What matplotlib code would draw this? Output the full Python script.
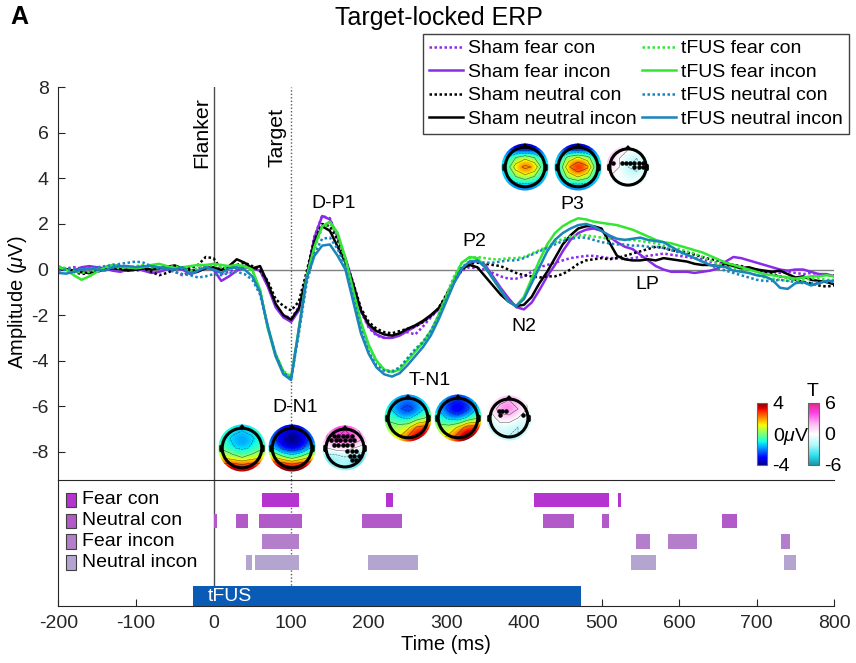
import numpy as np
import matplotlib
matplotlib.use('Agg')
import matplotlib.pyplot as plt
from matplotlib.colors import LinearSegmentedColormap, Normalize
from matplotlib.cm import ScalarMappable
from matplotlib.patches import Circle, Polygon, Rectangle

plt.rcParams['font.family'] = ['Liberation Sans', 'DejaVu Sans']
plt.rcParams['mathtext.fontset'] = 'custom'
plt.rcParams['mathtext.rm'] = 'Liberation Sans'
plt.rcParams['mathtext.it'] = 'Liberation Sans:italic'
plt.rcParams['axes.unicode_minus'] = False

# time axis (ms), one sample every 10 ms
t = np.arange(-200, 801, 10)

# grand-average ERPs (uV)
sham_fear_con = [
    0.00, 0.05, 0.10, 0.05, -0.05, -0.10, 0.00, 0.10, 0.05, 0.00,
    -0.05, 0.00, 0.05, 0.10, 0.05, -0.10, -0.25, -0.10, 0.05, 0.15,
    0.05, -0.20, -0.10, 0.05, 0.15, 0.10, -0.05, -0.70, -1.55, -2.00,
    -2.15, -1.65, -0.20, 1.45, 2.35, 2.25, 1.40, 0.45, -0.65, -1.85,
    -2.55, -2.90, -3.00, -3.00, -2.80, -2.75, -2.85, -2.50, -2.10, -1.75,
    -1.25, -0.55, -0.05, 0.10, 0.05, 0.00, -0.15, -0.30, -0.40, -0.40,
    -0.30, -0.10, 0.10, 0.20, 0.30, 0.40, 0.50, 0.55, 0.60, 0.60,
    0.55, 0.50, 0.50, 0.45, 0.50, 0.55, 0.60, 0.65, 0.70, 0.65,
    0.60, 0.55, 0.50, 0.45, 0.35, 0.30, 0.25, 0.20, 0.10, 0.05,
    0.00, -0.10, -0.10, -0.15, -0.10, -0.15, -0.20, -0.15, -0.20, -0.25,
    -0.25]
sham_fear_incon = [
    0.05, 0.00, -0.05, 0.10, 0.15, 0.10, 0.05, -0.05, -0.10, 0.00,
    0.05, -0.05, -0.15, -0.10, 0.00, 0.05, 0.00, -0.20, -0.10, 0.10,
    0.00, -0.50, -0.30, -0.05, 0.10, 0.05, -0.05, -0.75, -1.65, -2.10,
    -2.30, -1.80, -0.30, 1.40, 2.35, 2.20, 1.40, 0.50, -0.60, -1.80,
    -2.50, -2.85, -3.00, -3.00, -2.90, -2.70, -2.50, -2.30, -2.05, -1.75,
    -1.25, -0.55, 0.00, 0.25, 0.40, 0.20, -0.30, -0.80, -1.25, -1.65,
    -1.75, -1.45, -0.90, -0.30, 0.20, 0.80, 1.30, 1.60, 1.75, 1.80,
    1.70, 1.45, 1.20, 1.00, 0.90, 0.65, 0.40, 0.15, 0.00, -0.10,
    -0.10, -0.10, -0.15, -0.10, -0.05, 0.05, 0.35, 0.55, 0.50, 0.40,
    0.30, 0.20, 0.10, 0.00, -0.05, 0.00, 0.00, -0.10, -0.20, -0.20,
    -0.30]
sham_neutral_con = [
    0.05, 0.00, -0.10, -0.20, -0.15, -0.05, 0.10, 0.20, 0.15, 0.05,
    0.00, 0.05, -0.10, -0.25, -0.15, 0.00, 0.10, 0.05, 0.20, 0.55,
    0.50, 0.00, 0.10, 0.20, 0.30, 0.15, -0.05, -0.50, -1.30, -1.60,
    -1.80, -1.40, -0.10, 1.30, 2.00, 1.90, 1.30, 0.40, -0.60, -1.70,
    -2.30, -2.60, -2.75, -2.80, -2.70, -2.60, -2.50, -2.30, -2.05, -1.70,
    -1.10, -0.50, 0.00, 0.25, 0.30, 0.25, 0.20, 0.15, 0.00, -0.15,
    -0.25, -0.30, -0.35, -0.30, -0.30, -0.20, 0.00, 0.25, 0.40, 0.45,
    0.50, 0.45, 0.50, 0.60, 0.70, 0.80, 0.90, 1.00, 0.95, 0.85,
    0.80, 0.75, 0.65, 0.55, 0.45, 0.40, 0.30, 0.20, 0.15, 0.05,
    0.00, -0.10, -0.20, -0.30, -0.35, -0.45, -0.55, -0.60, -0.70, -0.75,
    -0.70]
sham_neutral_incon = [
    0.10, 0.02, -0.05, -0.12, -0.15, -0.08, 0.00, 0.05, 0.02, -0.05,
    0.00, 0.05, 0.00, 0.05, 0.12, 0.18, 0.05, -0.02, -0.08, 0.05,
    0.10, -0.02, 0.15, 0.45, 0.30, 0.05, 0.15, -0.60, -1.50, -2.00,
    -2.20, -1.70, -0.30, 1.20, 1.90, 1.70, 1.00, 0.30, -0.70, -1.80,
    -2.40, -2.70, -2.85, -2.90, -2.80, -2.60, -2.45, -2.25, -2.00, -1.70,
    -1.20, -0.50, 0.05, 0.20, 0.10, -0.30, -0.70, -1.10, -1.40, -1.60,
    -1.55, -1.20, -0.60, -0.10, 0.50, 1.10, 1.50, 1.80, 1.90, 1.90,
    1.80, 1.20, 0.60, 0.45, 0.40, 0.40, 0.45, 0.40, 0.50, 0.45,
    0.40, 0.35, 0.25, 0.20, 0.20, 0.15, 0.20, 0.15, 0.05, 0.10,
    0.00, -0.05, -0.10, -0.05, -0.20, -0.35, -0.30, -0.45, -0.50, -0.55,
    -0.65]
tfus_fear_con = [
    0.15, 0.05, -0.05, -0.15, -0.10, 0.00, 0.05, 0.10, 0.05, 0.10,
    0.15, 0.20, 0.10, 0.05, 0.10, 0.15, 0.05, -0.05, 0.05, 0.15,
    0.20, 0.10, 0.05, 0.10, 0.10, -0.05, -0.90, -2.50, -3.70, -4.45,
    -4.70, -2.70, -0.40, 0.90, 1.85, 2.00, 1.50, 0.40, -1.00, -2.40,
    -3.40, -4.00, -4.40, -4.45, -4.30, -3.90, -3.50, -3.15, -2.70, -2.00,
    -1.10, -0.30, 0.30, 0.50, 0.55, 0.50, 0.45, 0.45, 0.50, 0.50,
    0.55, 0.70, 0.85, 1.00, 1.20, 1.35, 1.45, 1.50, 1.50, 1.45,
    1.40, 1.35, 1.35, 1.30, 1.30, 1.25, 1.20, 1.15, 1.05, 0.95,
    0.90, 0.80, 0.70, 0.55, 0.40, 0.25, 0.15, 0.05, -0.05, -0.15,
    -0.25, -0.35, -0.40, -0.45, -0.50, -0.45, -0.45, -0.40, -0.40, -0.45,
    -0.45]
tfus_fear_incon = [
    0.10, 0.00, -0.25, -0.45, -0.30, -0.10, 0.10, 0.20, 0.15, 0.10,
    0.05, 0.10, 0.20, 0.25, 0.15, 0.05, 0.10, 0.15, 0.20, 0.20,
    0.25, 0.20, 0.15, 0.20, 0.15, 0.00, -0.90, -2.60, -3.80, -4.50,
    -4.75, -2.60, -0.30, 1.00, 1.90, 2.10, 1.60, 0.50, -0.90, -2.30,
    -3.30, -4.00, -4.40, -4.50, -4.40, -4.00, -3.60, -3.20, -2.70, -2.00,
    -1.20, -0.40, 0.30, 0.55, 0.50, 0.10, -0.40, -0.90, -1.40, -1.60,
    -1.20, -0.40, 0.40, 1.10, 1.60, 1.90, 2.10, 2.25, 2.20, 2.10,
    2.05, 2.00, 1.95, 1.85, 1.75, 1.60, 1.45, 1.30, 1.20, 1.15,
    1.05, 0.95, 0.85, 0.75, 0.60, 0.45, 0.30, 0.20, 0.10, 0.00,
    -0.10, -0.20, -0.25, -0.30, -0.35, -0.40, -0.35, -0.30, -0.30, -0.25,
    -0.30]
tfus_neutral_con = [
    -0.05, 0.00, 0.05, 0.00, 0.05, 0.10, 0.15, 0.20, 0.25, 0.30,
    0.35, 0.30, 0.15, 0.05, 0.00, -0.10, -0.20, -0.25, -0.35, -0.30,
    -0.20, -0.25, -0.15, -0.10, -0.20, -0.45, -1.10, -2.50, -3.70, -4.50,
    -4.80, -2.80, -0.60, 0.70, 1.35, 1.40, 0.90, 0.10, -1.20, -2.60,
    -3.60, -4.20, -4.45, -4.50, -4.30, -3.90, -3.50, -3.20, -2.70, -2.10,
    -1.30, -0.50, 0.10, 0.35, 0.35, 0.30, 0.30, 0.35, 0.40, 0.40,
    0.50, 0.65, 0.80, 0.95, 1.10, 1.25, 1.35, 1.40, 1.40, 1.30,
    1.20, 1.15, 1.10, 1.10, 1.05, 1.05, 1.00, 1.00, 0.95, 0.85,
    0.75, 0.65, 0.50, 0.35, 0.20, 0.05, -0.05, -0.15, -0.25, -0.35,
    -0.45, -0.50, -0.50, -0.45, -0.50, -0.55, -0.60, -0.60, -0.55, -0.55,
    -0.55]
tfus_neutral_incon = [
    -0.15, -0.18, -0.10, 0.00, 0.05, 0.00, -0.05, 0.10, 0.15, 0.15,
    0.10, 0.15, 0.15, 0.10, 0.05, 0.00, 0.10, -0.20, -0.05, 0.10,
    0.00, -0.15, 0.05, 0.10, 0.00, -0.30, -1.00, -2.50, -3.80, -4.60,
    -4.85, -2.60, -0.40, 0.60, 1.05, 1.10, 0.60, 0.00, -1.40, -2.80,
    -3.70, -4.30, -4.60, -4.70, -4.55, -4.20, -3.80, -3.40, -2.90, -2.20,
    -1.40, -0.60, 0.05, 0.35, 0.40, 0.10, -0.40, -0.90, -1.40, -1.60,
    -1.30, -0.60, 0.10, 0.80, 1.30, 1.60, 1.80, 1.95, 2.00, 1.90,
    1.70, 1.50, 1.35, 1.30, 1.35, 1.40, 1.30, 1.25, 1.20, 1.00,
    0.80, 0.65, 0.50, 0.35, 0.20, 0.15, 0.10, -0.05, -0.10, -0.15,
    -0.25, -0.30, -0.45, -0.80, -0.85, -0.60, -0.55, -0.70, -0.60, -0.50,
    -0.50]

# significant clusters (start, end in ms) per contrast row
sig_rows = ['Fear con', 'Neutral con', 'Fear incon', 'Neutral incon']
fear_con_sig = [(62, 110), (222, 231), (413, 510), (521, 525)]
neutral_con_sig = [(0, 5), (29, 45), (58, 114), (191, 243), (425, 465), (501, 510), (655, 675)]
fear_incon_sig = [(62, 110), (545, 562), (586, 623), (731, 743)]
neutral_incon_sig = [(42, 49), (54, 110), (199, 263), (538, 570), (735, 751)]
tfus_on = (-26, 474)

# scalp maps, 5x5 grids (front row first)
dn1_sham = [[-0.6, -1.0, -1.2, -1.0, -0.6],
            [-0.9, -1.5, -2.0, -1.5, -0.9],
            [-0.3, -1.2, -1.6, -1.2, -0.3],
            [1.2, 0.6, 0.0, 0.6, 1.2],
            [3.5, 4.0, 3.5, 4.0, 3.5]]
dn1_tfus = [[-1.8, -2.8, -3.3, -2.8, -1.8],
            [-2.3, -3.8, -4.4, -3.8, -2.3],
            [-1.3, -3.1, -3.6, -3.1, -1.3],
            [1.5, 0.5, -0.5, 0.5, 1.5],
            [4.0, 4.5, 4.0, 4.5, 4.0]]
dn1_t = [[2.0, 4.0, 4.0, 3.0, 1.0],
         [2.0, 4.0, 5.0, 4.0, 2.0],
         [0.0, 1.0, 1.0, 0.0, -1.0],
         [-3.0, -3.0, -2.0, -3.0, -3.0],
         [-3.0, -2.0, -2.0, -3.0, -4.0]]
tn1_sham = [[-0.8, -1.5, -1.9, -1.5, -0.8],
            [-1.1, -2.5, -3.1, -2.3, -1.0],
            [-0.2, -1.1, -1.6, -0.7, 0.2],
            [0.3, 0.5, 1.0, 3.0, 3.2],
            [0.8, 1.2, 2.8, 4.0, 3.2]]
tn1_tfus = [[-1.1, -2.0, -2.5, -2.0, -1.1],
            [-1.6, -3.1, -3.9, -3.0, -1.4],
            [-0.5, -1.6, -2.1, -1.1, -0.1],
            [0.3, 0.5, 1.5, 3.4, 3.2],
            [0.8, 1.6, 3.3, 4.4, 3.5]]
tn1_t = [[0.0, 1.0, 2.0, 1.0, 0.0],
         [0.5, 3.0, 4.0, 2.0, 0.0],
         [-1.0, 1.0, 1.0, 0.0, -1.5],
         [-2.0, -1.0, -1.0, -2.0, -1.0],
         [-1.0, -1.0, -2.0, -2.0, -1.0]]
p3_sham = [[-2.5, -3.5, -4.0, -3.5, -2.5],
           [-1.5, 0.0, 1.0, 0.0, -1.5],
           [-1.2, 2.0, 3.0, 2.5, -1.2],
           [-1.5, 0.0, 1.0, 0.0, -1.5],
           [-2.0, -2.0, -2.0, -2.0, -2.0]]
p3_tfus = [[-2.5, -3.5, -4.0, -3.5, -2.5],
           [-1.5, 0.5, 1.5, 0.5, -1.5],
           [-1.2, 2.5, 4.0, 3.0, -1.2],
           [-1.5, 0.5, 1.5, 0.5, -1.5],
           [-2.0, -2.0, -2.0, -2.0, -2.0]]
p3_t = [[1.5, 1.0, 0.0, 0.0, 0.5],
        [2.0, 0.0, -1.0, -2.0, 0.0],
        [1.0, 0.0, -2.0, -3.0, -1.0],
        [0.0, 0.0, -1.0, -1.0, 0.0],
        [-1.0, 0.0, 0.0, 0.0, -1.0]]
# significant electrodes on the t-maps
dn1_dots_x = [-0.5, -0.3, -0.1, 0.1, 0.3, -0.6, -0.4, -0.2, 0.0, 0.2, 0.4,
              -0.5, -0.3, -0.1, 0.1, 0.3, 0.1, 0.3, 0.5, 0.2, 0.4, 0.6, 0.3, 0.5]
dn1_dots_y = [0.55] * 5 + [0.35] * 6 + [0.15] * 5 + [-0.15] * 3 + [-0.35] * 3 + [-0.55] * 2
tn1_dots_x = [-0.45, -0.3, -0.15, -0.38, 0.6]
tn1_dots_y = [0.3, 0.3, 0.3, 0.15, 0.15]
p3_dots_x = [-0.7, -0.3, -0.1, 0.1, 0.3, 0.5, 0.7, 0.3, 0.5, 0.7]
p3_dots_y = [0.2, 0.2, 0.2, 0.2, 0.2, 0.2, 0.2, 0.02, 0.02, 0.02]

W, H = 856, 663
fig = plt.figure(figsize=(W / 100, H / 100), dpi=100)

purple = '#8B2BEA'
green = '#33E633'
blue = '#1A84BC'
dark = (0.15, 0.15, 0.15)
dots = (0, (1, 1))

# ---- ERP panel ----
ax = fig.add_axes([58.3 / W, (H - 480) / H, 776 / W, (480 - 87.3) / H])
ax.set_xlim(-200, 800)
ax.set_ylim(-9.24, 8)
ax.axhline(0, color=(0.5, 0.5, 0.5), lw=1, zorder=1)
ax.axvline(0, color=(0.3, 0.3, 0.3), lw=1, zorder=1)
ax.axvline(100, color=(0.35, 0.35, 0.35), lw=1, ls=(0, (1, 1.5)), zorder=1)

series = [
    (sham_fear_con, purple, dots, 'Sham fear con'),
    (sham_fear_incon, purple, '-', 'Sham fear incon'),
    (sham_neutral_con, 'k', dots, 'Sham neutral con'),
    (sham_neutral_incon, 'k', '-', 'Sham neutral incon'),
    (tfus_fear_con, green, dots, 'tFUS fear con'),
    (tfus_fear_incon, green, '-', 'tFUS fear incon'),
    (tfus_neutral_con, blue, dots, 'tFUS neutral con'),
    (tfus_neutral_incon, blue, '-', 'tFUS neutral incon'),
]
handles = []
for vals, col, ls, lab in series:
    ln, = ax.plot(t, vals, color=col, ls=ls, lw=1.8, label=lab, zorder=2)
    handles.append(ln)

for s in ['top', 'right', 'bottom']:
    ax.spines[s].set_visible(False)
ax.spines['left'].set_color(dark)
ax.set_xticks([])
ax.set_yticks(np.arange(-8, 9, 2))
ax.tick_params(axis='y', direction='in', length=5, labelsize=14, colors=dark, pad=7)
ax.set_ylabel('Amplitude ($\\mu$V)', fontsize=14.5)
ax.yaxis.set_label_coords(-0.038, 0.453)

ax.text(-3, 4.45, 'Flanker', rotation=90, ha='right', va='bottom', fontsize=15.3)
ax.text(94, 4.5, 'Target', rotation=90, ha='right', va='bottom', fontsize=15.3)
for lab, x, y in [('D-P1', 155, 2.9), ('P2', 336, 1.24), ('P3', 463, 2.87),
                  ('N2', 400, -2.49), ('LP', 559, -0.65), ('T-N1', 279, -4.86),
                  ('D-N1', 105, -6.04)]:
    ax.text(x, y, lab, ha='center', va='center', fontsize=14)

fig.legend(handles=handles, ncol=2, loc='upper left',
           bbox_to_anchor=(423 / W, 1 - 34 / H), frameon=True, fancybox=False,
           edgecolor=(0.25, 0.25, 0.25), framealpha=1, fontsize=14,
           handlelength=1.75, handletextpad=0.25, columnspacing=0.3,
           labelspacing=0.3, borderpad=0.3, borderaxespad=0)

# ---- significance panel ----
ax2 = fig.add_axes([58.3 / W, (H - 605.7) / H, 776 / W, 125.7 / H])
ax2.set_xlim(-200, 800)
ax2.set_ylim(0, 6)
ax2.axvline(0, color=(0.3, 0.3, 0.3), lw=1, zorder=1)
ax2.axvline(100, color=(0.35, 0.35, 0.35), lw=1, ls=(0, (1, 1.5)), zorder=1)
row_cols = ['#B533CF', '#B25BC8', '#B47FCA', '#B3A5D0']
for i, (name, spans, col) in enumerate(zip(sig_rows,
                                         [fear_con_sig, neutral_con_sig, fear_incon_sig, neutral_incon_sig],
                                         row_cols)):
    yc = 5.05 - i
    ax2.broken_barh([(a, b - a) for a, b in spans], (yc - 0.35, 0.7),
                    facecolors=col, edgecolor='none', zorder=2)
    ax2.add_patch(Rectangle((-190, yc - 0.35), 13, 0.7, facecolor=col,
                            edgecolor=(0.25, 0.25, 0.25), lw=0.8, zorder=3))
    ax2.text(-169, yc, name, va='center', ha='left', fontsize=14)
ax2.broken_barh([(tfus_on[0], tfus_on[1] - tfus_on[0])], (0, 0.94),
                facecolors='#0A5BB6', edgecolor='none', zorder=3)
ax2.text(-8, 0.44, 'tFUS', color='white', va='center', ha='left', fontsize=14, zorder=4)
ax2.spines['right'].set_visible(False)
for s in ['top', 'left', 'bottom']:
    ax2.spines[s].set_color(dark)
ax2.set_yticks([])
ax2.set_xticks(np.arange(-200, 801, 100))
ax2.tick_params(axis='x', direction='in', length=5, labelsize=14, colors=dark, pad=7)
ax2.set_xlabel('Time (ms)', fontsize=14.5, labelpad=2)

# ---- scalp maps ----
tmap = LinearSegmentedColormap.from_list(
    'tmap', ['#1597AC', '#35E4F0', '#B8F8FA', '#FFFFFF', '#FFB8F2', '#FF45E6', '#E0258C'])


def add_topo(cx, cy, grid, cmap, vlim, dx=None, dy=None, size=48):
    tax = fig.add_axes([(cx - size / 2) / W, 1 - (cy + size / 2) / H, size / W, size / H])
    tax.set_xlim(-1.02, 1.02)
    tax.set_ylim(-1.02, 1.02)
    tax.axis('off')
    g = np.array(grid)
    disk = Circle((0, 0), 1, transform=tax.transData)
    im = tax.imshow(g, extent=(-1, 1, -1, 1), cmap=cmap, vmin=-vlim, vmax=vlim,
                    interpolation='bicubic', origin='upper')
    im.set_clip_path(disk)
    xs = np.linspace(-0.8, 0.8, 5)
    ys = np.linspace(0.8, -0.8, 5)
    cs = tax.contour(xs, ys, g, levels=np.linspace(-vlim, vlim, 7)[1:-1], colors='k',
                     linewidths=0.4, alpha=0.6)
    cs.set_clip_path(disk)
    tax.add_patch(Circle((0, 0), 0.84, fill=False, lw=2.2, edgecolor='k'))
    tax.add_patch(Polygon([(-0.13, 0.82), (0, 0.98), (0.13, 0.82)], closed=True,
                          facecolor='k', edgecolor='k'))
    for sgn in (-1, 1):
        tax.plot([sgn * 0.84, sgn * 0.92, sgn * 0.92, sgn * 0.84],
                 [0.12, 0.08, -0.12, -0.16], color='k', lw=1.5)
    if dx is not None:
        tax.scatter(dx, dy, s=5, color='k', zorder=5)


add_topo(242, 448, dn1_sham, 'jet', 4)
add_topo(292, 448, dn1_tfus, 'jet', 4)
add_topo(345, 448, dn1_t, tmap, 6, dn1_dots_x, dn1_dots_y, size=46)
add_topo(408, 418, tn1_sham, 'jet', 4)
add_topo(458, 418, tn1_tfus, 'jet', 4)
add_topo(509, 418, tn1_t, tmap, 6, tn1_dots_x, tn1_dots_y, size=46)
add_topo(525, 167, p3_sham, 'jet', 4)
add_topo(578, 167, p3_tfus, 'jet', 4)
add_topo(628, 167, p3_t, tmap, 6, p3_dots_x, p3_dots_y, size=44)

# ---- colour bars ----
cax1 = fig.add_axes([757 / W, 1 - 465 / H, 10 / W, 62 / H])
cb1 = fig.colorbar(ScalarMappable(norm=Normalize(-4, 4), cmap='jet'), cax=cax1, ticks=[-4, 0, 4])
cb1.ax.set_yticklabels(['-4', '0$\\mu$V', '4'])
cb1.ax.tick_params(length=0, labelsize=14, pad=4)
cb1.outline.set_edgecolor((0.4, 0.4, 0.4))

cax2 = fig.add_axes([808 / W, 1 - 465 / H, 11 / W, 62 / H])
cb2 = fig.colorbar(ScalarMappable(norm=Normalize(-6, 6), cmap=tmap), cax=cax2, ticks=[-6, 0, 6])
cb2.ax.set_yticklabels(['-6', '0', '6'])
cb2.ax.tick_params(length=0, labelsize=14, pad=4)
cb2.outline.set_edgecolor((0.4, 0.4, 0.4))
fig.text(813 / W, 1 - 391 / H, 'T', ha='center', va='center', fontsize=14)

fig.text(439 / W, 1 - 18 / H, 'Target-locked ERP', ha='center', va='center', fontsize=18)
fig.text(10 / W, 1 - 17 / H, 'A', ha='left', va='center', fontsize=18, fontweight='bold')

fig.savefig('out.png', dpi=100)
